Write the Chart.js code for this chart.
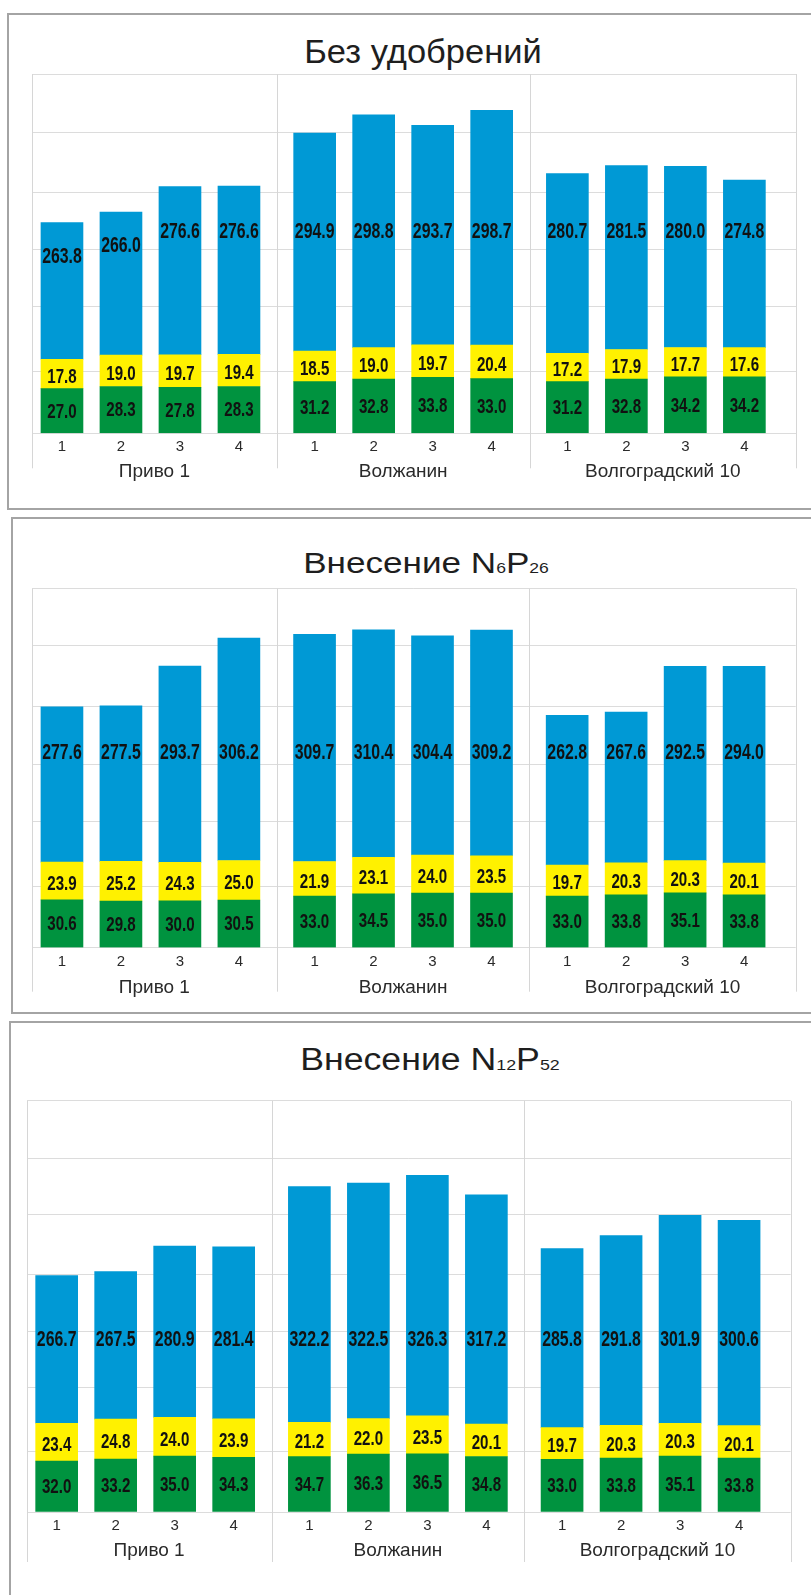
<!DOCTYPE html>
<html lang="ru">
<head>
    <meta charset="UTF-8">
    <title>Урожай по сортам</title>
    <script src="https://cdn.jsdelivr.net/npm/chart.js"></script>
    <style>
        body {
            margin: 0;
            width: 811px;
            height: 1595px;
            overflow: hidden;
            position: relative;
            background: #fff;
            font-family: "Liberation Sans", Arial, sans-serif;
        }

        .panel {
            position: absolute;
            box-sizing: border-box;
            border: 2px solid #a4a4a4;
            width: 900px;
        }

        .title {
            position: absolute;
            width: 848px;
            text-align: center;
            color: #1e1e1e;
            white-space: nowrap;
        }

        .title .sub {
            font-size: 0.5em;
        }

        canvas {
            position: absolute;
            left: 0;
        }
    </style>
</head>
<body>
    <div class="panel" style="left:7px; top:13px; height:497px;"></div>
    <div class="panel" style="left:11px; top:517px; height:497px;"></div>
    <div class="panel" style="left:9px; top:1021px; height:700px;"></div>

    <div class="title" style="left:-1px; top:35px; font-size:33px; line-height:33px; transform:scaleX(1.045);">Без удобрений</div>
    <div class="title" style="left:2px; top:548px; font-size:30px; line-height:30px; transform:scaleX(1.17);">Внесение N<span class="sub">6</span>P<span class="sub">26</span></div>
    <div class="title" style="left:6px; top:1044px; font-size:31px; line-height:31px; transform:scaleX(1.15);">Внесение N<span class="sub">12</span>P<span class="sub">52</span></div>

    <canvas id="chart1" width="811" height="496" style="top:13px;"></canvas>
    <canvas id="chart2" width="811" height="496" style="top:517px;"></canvas>
    <canvas id="chart3" width="811" height="574" style="top:1021px;"></canvas>

    <script>
        // categories: 4 variants inside each variety
        const labels = ['1', '2', '3', '4', '1', '2', '3', '4', '1', '2', '3', '4'];
        const groups = ['Приво 1', 'Волжанин', 'Волгоградский 10'];

        // без удобрений
        const green1 = [27.0, 28.3, 27.8, 28.3, 31.2, 32.8, 33.8, 33.0, 31.2, 32.8, 34.2, 34.2];
        const yellow1 = [17.8, 19.0, 19.7, 19.4, 18.5, 19.0, 19.7, 20.4, 17.2, 17.9, 17.7, 17.6];
        const blue1 = [263.8, 266.0, 276.6, 276.6, 294.9, 298.8, 293.7, 298.7, 280.7, 281.5, 280.0, 274.8];

        // N6P26
        const green2 = [30.6, 29.8, 30.0, 30.5, 33.0, 34.5, 35.0, 35.0, 33.0, 33.8, 35.1, 33.8];
        const yellow2 = [23.9, 25.2, 24.3, 25.0, 21.9, 23.1, 24.0, 23.5, 19.7, 20.3, 20.3, 20.1];
        const blue2 = [277.6, 277.5, 293.7, 306.2, 309.7, 310.4, 304.4, 309.2, 262.8, 267.6, 292.5, 294.0];

        // N12P52
        const green3 = [32.0, 33.2, 35.0, 34.3, 34.7, 36.3, 36.5, 34.8, 33.0, 33.8, 35.1, 33.8];
        const yellow3 = [23.4, 24.8, 24.0, 23.9, 21.2, 22.0, 23.5, 20.1, 19.7, 20.3, 20.3, 20.1];
        const blue3 = [266.7, 267.5, 280.9, 281.4, 322.2, 322.5, 326.3, 317.2, 285.8, 291.8, 301.9, 300.6];

        // y axis break values (gridlines), the axis is broken between the low and high parts
        const ticks1 = [0, 37.5, 77, 297, 322, 345, 364];
        const ticks2 = [0, 39, 80, 217, 332, 356, 399];
        const ticks3 = [0, 38, 77.5, 200, 323.8, 358, 399, 441];

        // where each gridline sits, as a share of the plot height
        const stops1 = [0, 0.1727, 0.3538, 0.5125, 0.6713, 0.8384, 1];
        const stops2 = [0, 0.1699, 0.3510, 0.5109, 0.6705, 0.8412, 1];
        const stops3 = [0, 0.1474, 0.3028, 0.4400, 0.5772, 0.7246, 0.8609, 1];

        // category axis that leaves a wider gap between groups of bars
        class GroupScale extends Chart.CategoryScale {
            getPixelForValue(value) {
                if (typeof value !== 'number') value = this.parse(value);
                const o = this.options;
                const pos = o.padStart + value + Math.floor(value / o.groupSize) * o.groupGap;
                const span = o.padStart + (this.max - this.min) +
                    Math.floor(this.max / o.groupSize) * o.groupGap + o.padEnd;
                return this.getPixelForDecimal(pos / span);
            }
        }
        GroupScale.id = 'groups';

        // piecewise linear value axis (broken axis)
        class BrokenScale extends Chart.LinearScale {
            determineDataLimits() {
                const v = this.options.breaks;
                this.min = v[0];
                this.max = v[v.length - 1];
            }
            buildTicks() {
                return Array.from(this.options.breaks).map(value => ({ value }));
            }
            getPixelForValue(value) {
                const v = this.options.breaks, f = this.options.stops;
                let i = 1;
                while (i < v.length - 1 && value > v[i]) i++;
                const t = f[i - 1] + (value - v[i - 1]) / (v[i] - v[i - 1]) * (f[i] - f[i - 1]);
                return this.getPixelForDecimal(t);
            }
            getValueForPixel(pixel) {
                const v = this.options.breaks, f = this.options.stops;
                const t = this.getDecimalForPixel(pixel);
                let i = 1;
                while (i < f.length - 1 && t > f[i]) i++;
                return v[i - 1] + (t - f[i - 1]) / (f[i] - f[i - 1]) * (v[i] - v[i - 1]);
            }
        }
        BrokenScale.id = 'broken';

        Chart.register(GroupScale, BrokenScale);

        const FONT = '"Liberation Sans", Arial, sans-serif';

        // frame lines, category numbers, variety names and the values inside bars
        const panelDecor = {
            id: 'panelDecor',
            beforeDatasetsDraw(chart, args, opts) {
                const { ctx, chartArea: a, scales: { x } } = chart;
                const per = labels.length / groups.length;
                const edges = [a.left];
                for (let g = 1; g < groups.length; g++) {
                    edges.push((x.getPixelForValue(g * per - 1) + x.getPixelForValue(g * per)) / 2);
                }
                edges.push(a.right);

                ctx.save();
                ctx.strokeStyle = '#d6d6d6';
                ctx.lineWidth = 1;
                edges.forEach(px => {
                    const xx = Math.round(px) + 0.5;
                    ctx.beginPath();
                    ctx.moveTo(xx, a.top);
                    ctx.lineTo(xx, a.bottom + opts.drop);
                    ctx.stroke();
                });

                ctx.fillStyle = '#2a2a2a';
                ctx.textAlign = 'center';
                ctx.textBaseline = 'middle';
                ctx.font = '15px ' + FONT;
                labels.forEach((lab, i) => ctx.fillText(lab, x.getPixelForValue(i), a.bottom + opts.tickGap));
                ctx.font = '19px ' + FONT;
                groups.forEach((name, g) => ctx.fillText(name, (edges[g] + edges[g + 1]) / 2, a.bottom + opts.groupGap));
                ctx.restore();
            },
            afterDatasetsDraw(chart, args, opts) {
                const { ctx, chartArea: a } = chart;
                const line = a.bottom - opts.blueLine * (a.bottom - a.top);
                ctx.save();
                ctx.fillStyle = '#111';
                ctx.textAlign = 'center';
                ctx.textBaseline = 'middle';
                chart.data.datasets.forEach((ds, di) => {
                    const meta = chart.getDatasetMeta(di);
                    ctx.font = 'bold ' + (di === 2 ? 22 : 21) + 'px ' + FONT;
                    meta.data.forEach((bar, i) => {
                        const top = Math.min(bar.y, bar.base);
                        const bottom = Math.max(bar.y, bar.base);
                        let y = (top + bottom) / 2 + (di === 1 ? 3 : 1);
                        if (di === 2) y = Math.max(line, top + 34);
                        ctx.save();
                        ctx.translate(bar.x, y);
                        ctx.scale(0.72, 1);
                        ctx.fillText(ds.data[i].toFixed(1), 0, 0);
                        ctx.restore();
                    });
                });
                ctx.restore();
            }
        };

        function makeChart(id, green, yellow, blue, ticks, stops, padding, deco) {
            return new Chart(document.getElementById(id), {
                type: 'bar',
                data: {
                    labels: labels,
                    datasets: [
                        { label: 'I', data: green, backgroundColor: '#00933f' },
                        { label: 'II', data: yellow, backgroundColor: '#fff100' },
                        { label: 'III', data: blue, backgroundColor: '#0099d5' }
                    ]
                },
                options: {
                    responsive: false,
                    animation: false,
                    layout: { padding: padding },
                    datasets: { bar: { barThickness: 42 } },
                    plugins: {
                        legend: { display: false },
                        tooltip: { enabled: false },
                        panelDecor: deco
                    },
                    scales: {
                        x: {
                            type: 'groups',
                            stacked: true,
                            display: false,
                            groupSize: 4,
                            groupGap: 0.283,
                            padStart: 0.508,
                            padEnd: 0.875
                        },
                        y: {
                            type: 'broken',
                            stacked: true,
                            breaks: ticks,
                            stops: stops,
                            ticks: { display: false },
                            border: { display: false },
                            grid: { color: '#dcdcdc', drawTicks: false }
                        }
                    }
                },
                plugins: [panelDecor]
            });
        }

        makeChart('chart1', green1, yellow1, blue1, ticks1, stops1,
            { left: 32, right: 15, top: 61, bottom: 75.7 },
            { drop: 35, tickGap: 14, groupGap: 38.5, blueLine: 0.5616 });
        makeChart('chart2', green2, yellow2, blue2, ticks2, stops2,
            { left: 32, right: 15.3, top: 71.7, bottom: 65.3 },
            { drop: 44, tickGap: 14, groupGap: 40.5, blueLine: 0.5415 });
        makeChart('chart3', green3, yellow3, blue3, ticks3, stops3,
            { left: 26.7, right: 20.3, top: 79.9, bottom: 83 },
            { drop: 50, tickGap: 14, groupGap: 39, blueLine: 0.418 });
    </script>
</body>
</html>
